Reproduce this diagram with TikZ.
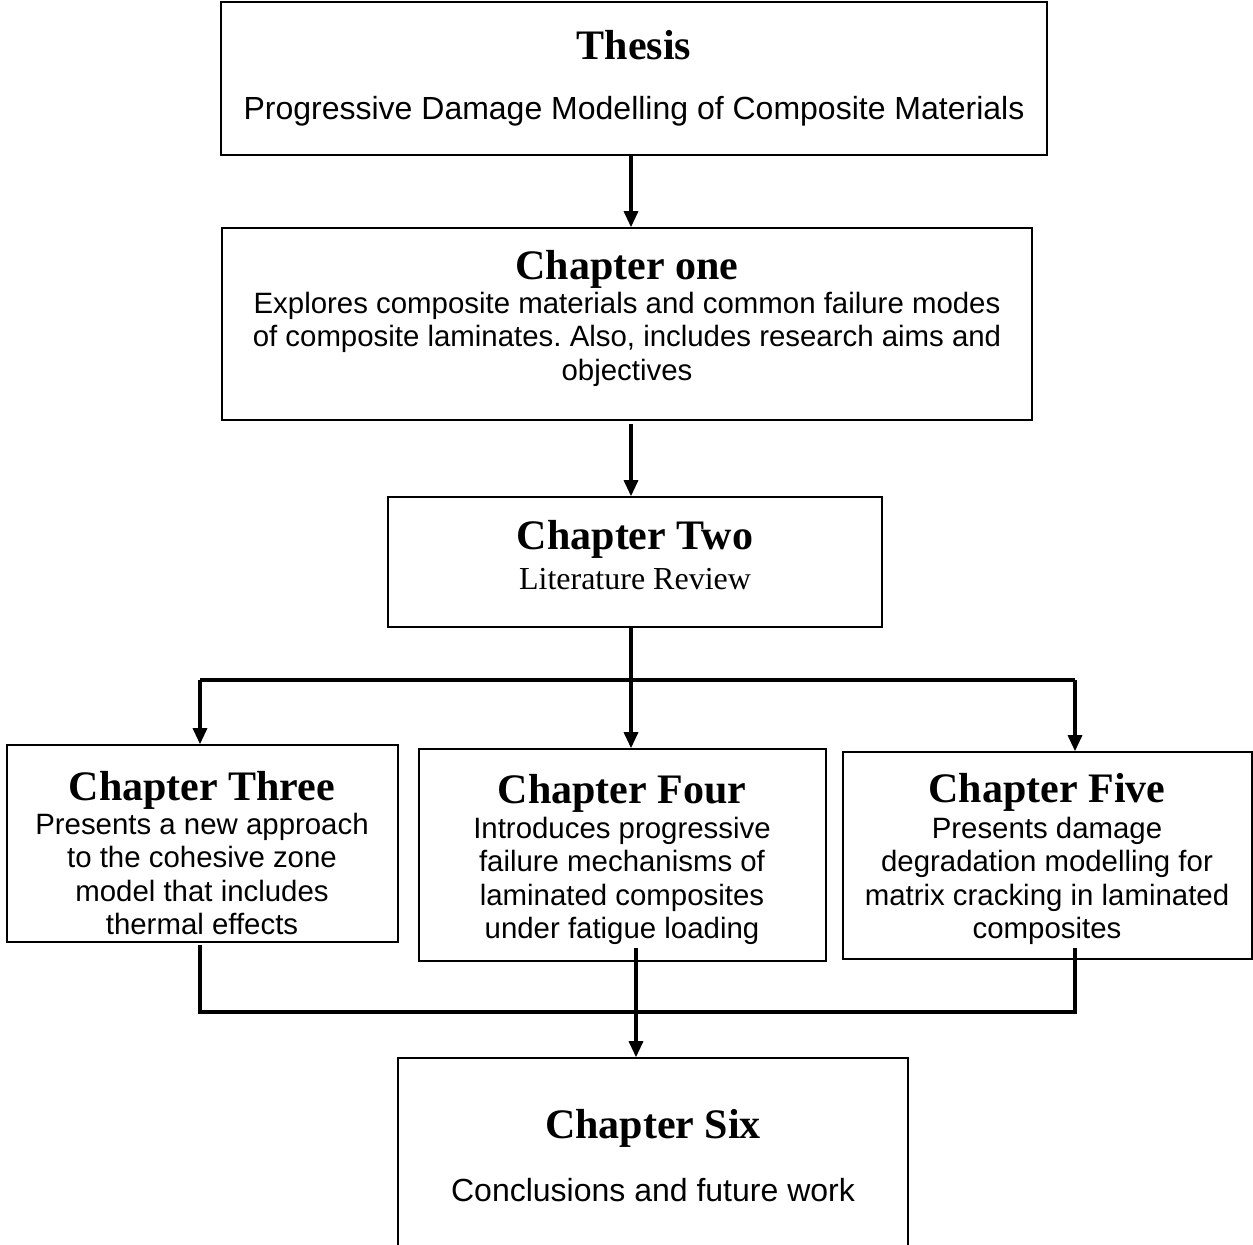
\documentclass[tikz,border=0pt]{standalone}
\usepackage{fontspec}
\setmainfont{Liberation Serif}
\newfontfamily\arialfont{Liberation Sans}
\usetikzlibrary{arrows.meta, calc}
\frenchspacing

\tikzset{
  chapbox/.style={draw, line width=0.8pt, inner sep=0pt},
  chaptitle/.style={anchor=base, inner sep=0pt, font=\fontsize{21}{24}\selectfont\bfseries},
  chapbody/.style={align=center, inner sep=0pt, font=\arialfont\fontsize{14.7}{16.7}\selectfont},
  link/.style={line width=1.6pt, -{Triangle[length=8pt,width=7pt]}},
  bus/.style={line width=2pt}
}

\begin{document}
\begin{tikzpicture}[x=0.5pt, y=-0.5pt]
    \useasboundingbox (0,0) rectangle (1253,1244);

    % Draw boxes
    \node[chapbox, minimum width=413pt, minimum height=76.5pt] (thesis) at (634,78.5) {};
    \node[chapbox, minimum width=405pt, minimum height=96pt] (ch1) at (627,324) {};
    \node[chapbox, minimum width=247pt, minimum height=65pt] (ch2) at (635,562) {};
    \node[chapbox, minimum width=195.5pt, minimum height=98.5pt] (ch3) at (202.5,843.5) {};
    \node[chapbox, minimum width=203.5pt, minimum height=106pt] (ch4) at (622.5,855) {};
    \node[chapbox, minimum width=204.5pt, minimum height=103.5pt] (ch5) at (1047.5,855.5) {};
    \node[chapbox, minimum width=255pt, minimum height=101pt] (ch6) at (653,1159) {};

    % Texts
    \node[chaptitle] (thesistitle) at (634,59) {Thesis};
    \node[chapbody, font=\arialfont\fontsize{16}{18}\selectfont] (thesisbody) at (634,111)
        {Progressive Damage Modelling of Composite Materials};

    \node[chaptitle] (ch1title) at (627,279) {Chapter one};
    \node[chapbody] (ch1body) at (627,339)
        {Explores composite materials and common failure modes\\
         of composite laminates. Also, includes research aims and\\
         objectives};

    \node[chaptitle] (ch2title) at (635,549) {Chapter Two};
    \node[inner sep=0pt, font=\fontsize{16}{18}\selectfont] (ch2body) at (635,579) {Literature Review};

    \node[chaptitle] (ch3title) at (202,800) {Chapter Three};
    \begin{scope}
        \clip (ch3.north west) rectangle ($(ch3.south east)+(0,-7)$);
        \node[chapbody] (ch3body) at (202,874)
            {Presents a new approach\\ to the cohesive zone\\ model that includes\\ thermal effects};
    \end{scope}

    \node[chaptitle] (ch4title) at (622,803) {Chapter Four};
    \node[chapbody] (ch4body) at (622,881)
        {Introduces progressive\\ failure mechanisms of\\ laminated composites\\ under fatigue loading};

    \node[chaptitle] (ch5title) at (1047,802) {Chapter Five};
    \node[chapbody] (ch5body) at (1047,881)
        {Presents damage\\ degradation modelling for\\ matrix cracking in laminated\\ composites};

    \node[chaptitle] (ch6title) at (653,1138) {Chapter Six};
    \node[chapbody, font=\arialfont\fontsize{16}{18}\selectfont] (ch6body) at (653,1190)
        {Conclusions and future work};

    % Draw connections
    \coordinate (spine) at (631,0);
    \coordinate (drop) at (636,0);
    \coordinate (topleft) at (200,680);
    \coordinate (topright) at (1075,680);
    \coordinate (botleft) at (200,1012);
    \coordinate (botright) at (1075,1012);

    \draw[link] (thesis.south -| spine) -- (ch1.north -| spine);
    \draw[link] ($(ch1.south -| spine)+(0,3)$) -- (ch2.north -| spine);
    \draw[bus] (ch2.south -| spine) -- (spine |- topleft);
    \draw[bus] (topleft) -- (topright);
    \draw[link] (topleft) -- (topleft |- ch3.north);
    \draw[link] (spine |- topleft) -- (spine |- ch4.north);
    \draw[link] (topright) -- (topright |- ch5.north);

    \draw[bus] ($(botleft |- ch3.south)+(0,2)$) -- (botleft) -- (botright) -- ($(botright |- ch5.south)+(0,-12)$);
    \draw[link] ($(drop |- ch4.south)+(0,-14)$) -- (drop |- ch6.north);
\end{tikzpicture}
\end{document}
